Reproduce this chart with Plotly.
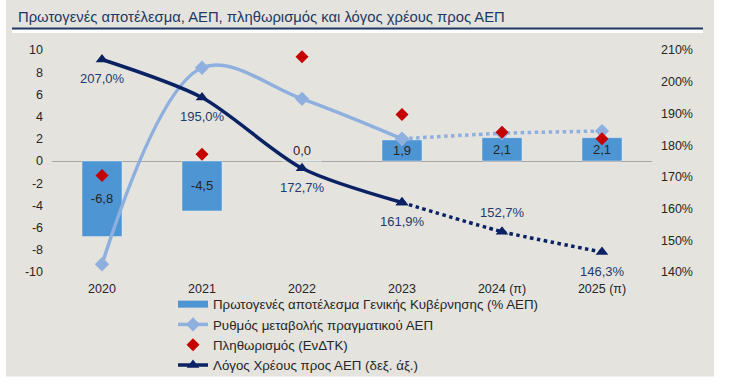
import plotly.graph_objects as go

# ---- data ----
years = ["2020", "2021", "2022", "2023", "2024 (π)", "2025 (π)"]
primary_balance = [-6.8, -4.5, 0.0, 1.9, 2.1, 2.1]
real_gdp = [-9.3, 8.4, 5.6, 2.0, 2.5, 2.7]
inflation = [-1.3, 0.6, 9.4, 4.2, 2.6, 2.0]
debt_ratio = [207.0, 195.0, 172.7, 161.9, 152.7, 146.3]

left_ticks = [10, 8, 6, 4, 2, 0, -2, -4, -6, -8, -10]
right_ticks = [210, 200, 190, 180, 170, 160, 150, 140]

title = "Πρωτογενές αποτέλεσμα, ΑΕΠ, πληθωρισμός και λόγος χρέους προς ΑΕΠ"
names = ["Πρωτογενές αποτέλεσμα Γενικής Κυβέρνησης (% ΑΕΠ)",
         "Ρυθμός μεταβολής πραγματικού ΑΕΠ",
         "Πληθωρισμός (ΕνΔΤΚ)",
         "Λόγος Χρέους προς ΑΕΠ (δεξ. άξ.)"]

def fmt(v):
    return f"{v:.1f}".replace(".", ",")

FONT = "Liberation Sans, Arial, sans-serif"
TXT = "#262626"
BAR = "#4E95D3"
GDP = "#8FB0DE"
RED = "#C40000"
NAVY = "#0A2263"
LBL = "#1F3A6E"
BG = "#E4E3DE"

fig = go.Figure()

# legend proxy for the bars (wide bar-like symbol)
fig.add_trace(go.Scatter(
    x=[None], y=[None], name=names[0], mode="lines",
    line=dict(color=BAR, width=7),
))

fig.add_trace(go.Bar(
    x=years, y=primary_balance, name=names[0], marker_color=BAR, width=0.4,
    showlegend=False,
    text=[fmt(v) for v in primary_balance],
    textposition=["inside" if v != 0 else "outside" for v in primary_balance],
    insidetextanchor="middle", constraintext="none", cliponaxis=False,
    textfont=dict(color=TXT, size=13, family=FONT),
    insidetextfont=dict(color=TXT, size=13, family=FONT),
    outsidetextfont=dict(color=TXT, size=13, family=FONT),
))

# GDP: solid (actual) and dotted (forecast)
fig.add_trace(go.Scatter(
    x=years[:4], y=real_gdp[:4], name=names[1], mode="lines+markers",
    line=dict(color=GDP, width=3.5, shape="spline", smoothing=1.0),
    marker=dict(symbol="diamond", size=11, color=GDP),
))
fig.add_trace(go.Scatter(
    x=years[3:], y=real_gdp[3:], showlegend=False, mode="lines+markers",
    line=dict(color=GDP, width=3.5, dash="dot", shape="spline", smoothing=0.6),
    marker=dict(symbol="diamond", size=11, color=GDP),
))

fig.add_trace(go.Scatter(
    x=years, y=inflation, name=names[2], mode="markers",
    marker=dict(symbol="diamond", size=10, color=RED),
))

fig.add_trace(go.Scatter(
    x=years[:4], y=debt_ratio[:4], name=names[3], mode="lines+markers", yaxis="y2",
    line=dict(color=NAVY, width=3.5, shape="spline", smoothing=0.8),
    marker=dict(symbol="triangle-up", size=11, color=NAVY),
))
fig.add_trace(go.Scatter(
    x=years[3:], y=debt_ratio[3:], showlegend=False, mode="lines+markers", yaxis="y2",
    line=dict(color=NAVY, width=3.5, dash="dot", shape="spline", smoothing=0.5),
    marker=dict(symbol="triangle-up", size=11, color=NAVY),
))

L, R, T, B = 52, 81, 50, 119
W, H = 733, 392
pw, ph = W - L - R, H - T - B

def px_x(p):
    return (p - L) / pw

def px_y(p):
    return (H - B - p) / ph

annotations = []
for i, d in enumerate(debt_ratio):
    shift = 19 if i == 4 else -19
    annotations.append(dict(
        x=i, y=d, xref="x", yref="y2", text=fmt(d) + "%", showarrow=False,
        yshift=shift, font=dict(color=LBL, size=13, family=FONT),
    ))

annotations.append(dict(
    x=px_x(16), y=px_y(17), xref="paper", yref="paper", text=title,
    showarrow=False, xanchor="left", yanchor="middle",
    font=dict(color="#1F3864", size=14.8, family=FONT),
))

shapes = [
    dict(type="rect", xref="paper", yref="paper", x0=px_x(6), x1=px_x(714),
         y0=px_y(378), y1=px_y(-5), fillcolor=BG, line_width=0, layer="below"),
    dict(type="rect", xref="paper", yref="paper", x0=px_x(12), x1=px_x(703),
         y0=px_y(33), y1=px_y(29.5), fillcolor="white", line_width=0, layer="below"),
    dict(type="line", xref="paper", yref="paper", x0=px_x(12), x1=px_x(703),
         y0=px_y(28.5), y1=px_y(28.5), line=dict(color="#1F3864", width=2), layer="below"),
]

fig.update_layout(
    width=W, height=H, autosize=False,
    margin=dict(l=L, r=R, t=T, b=B),
    paper_bgcolor="white", plot_bgcolor="rgba(0,0,0,0)",
    font=dict(family=FONT, color=TXT, size=12.5),
    showlegend=True,
    legend=dict(x=px_x(173), y=px_y(289), xanchor="left", yanchor="top",
                bgcolor="rgba(0,0,0,0)", font=dict(size=13.3, color=TXT),
                traceorder="normal"),
    xaxis=dict(type="category", range=[-0.5, 5.5], showgrid=False, showline=False,
               zeroline=False, ticks="", ticklabelstandoff=7),
    yaxis=dict(range=[-10, 10], tickvals=left_ticks, ticktext=[str(v) for v in left_ticks],
               showgrid=False, zeroline=True, zerolinecolor="#A6A6A6", zerolinewidth=1,
               showline=False, ticks="", ticklabelstandoff=8),
    yaxis2=dict(range=[140, 210], overlaying="y", side="right", tickvals=right_ticks,
                ticktext=[f"{v}%" for v in right_ticks], showgrid=False, zeroline=False,
                showline=False, ticks="", ticklabelstandoff=8),
    annotations=annotations,
    shapes=shapes,
    bargap=0.6,
)

fig.write_html("out.html", config={"displayModeBar": False},
               post_script="document.body.style.margin='0px';")
